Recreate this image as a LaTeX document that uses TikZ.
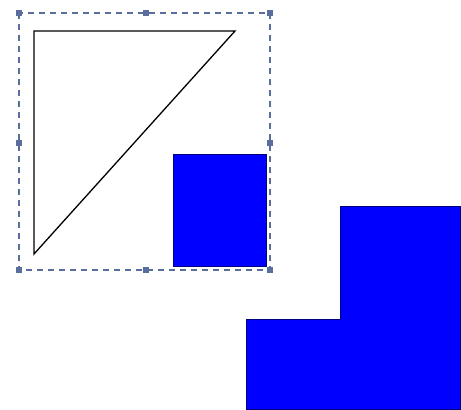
\documentclass[tikz,border=0pt]{standalone}
\begin{document}
\begin{tikzpicture}[x=1pt,y=-1pt,
  selbox/.style={draw=selc,dashed,dash pattern=on 6pt off 5pt,line width=1.3pt},
  handle/.style={fill=selc,minimum size=6pt,inner sep=0pt,draw=none,rectangle},
  bluefill/.style={fill=blue,draw=blue!50!black,line width=1pt}]
\definecolor{selc}{HTML}{5A6E9E}
\useasboundingbox (0,0) rectangle (461,410);
\draw[selbox] (19,13) rectangle (270,270);
\draw[black,line width=1.3pt] (34,254) -- (34,31) -- (235,31) -- cycle;
\draw[bluefill] (173,154) rectangle (266,266);
\draw[bluefill] (340,206) -- (460,206) -- (460,409) -- (246,409) -- (246,319) -- (340,319) -- cycle;
\node[handle] (h1) at (19,13) {};
\node[handle] (h2) at (146,13) {};
\node[handle] (h3) at (270,13) {};
\node[handle] (h4) at (19,143) {};
\node[handle] (h5) at (270,143) {};
\node[handle] (h6) at (19,270) {};
\node[handle] (h7) at (146,270) {};
\node[handle] (h8) at (270,270) {};
\end{tikzpicture}
\end{document}
